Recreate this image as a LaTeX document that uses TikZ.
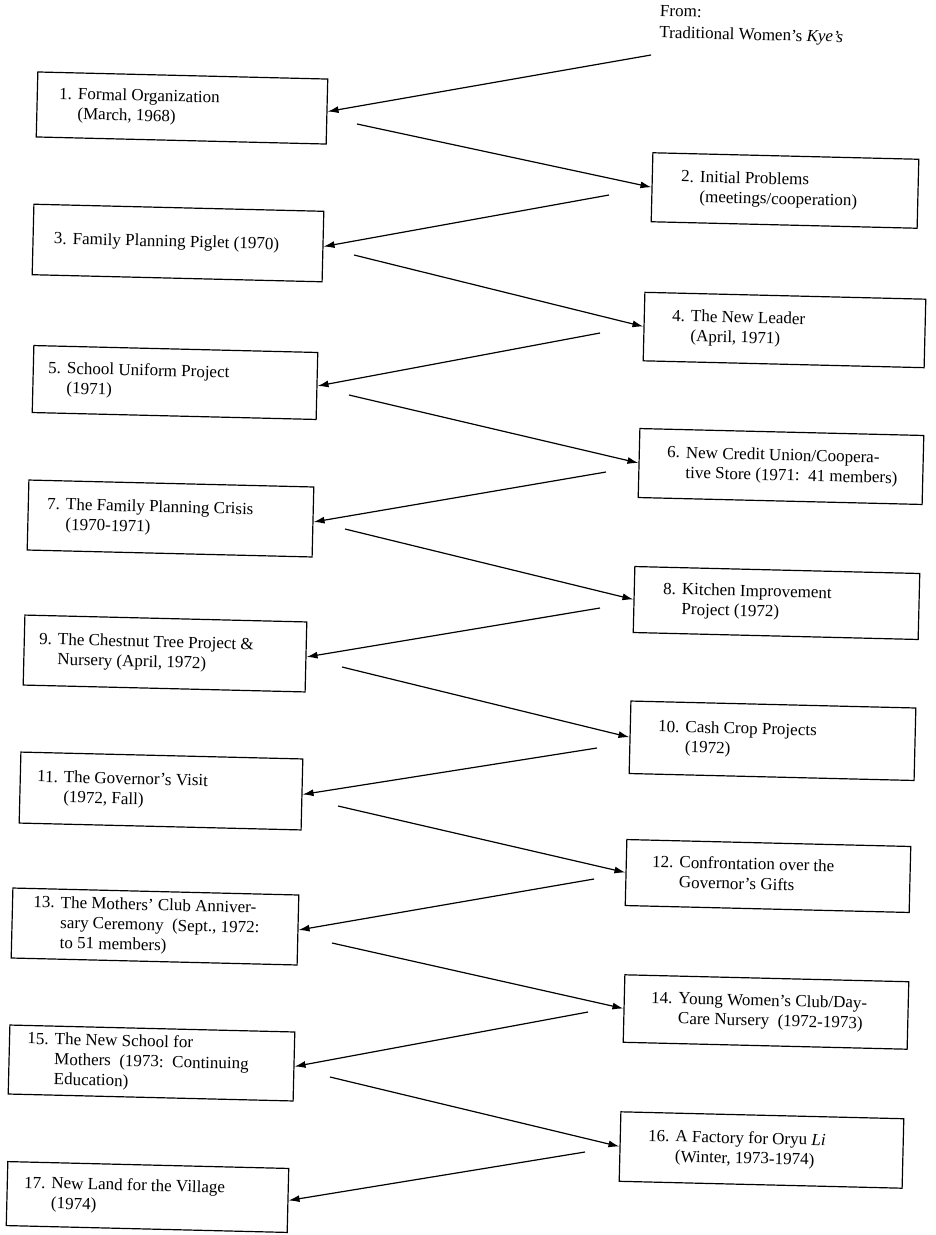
\documentclass[tikz,border=0pt]{standalone}
\usepackage{fontspec}
\setmainfont{Liberation Serif}
\usetikzlibrary{arrows.meta}
\tikzset{
  box/.style={draw, line width=1.2pt, rotate=-1.4, inner sep=0pt, font=\fontsize{17}{20}\selectfont},
  arr/.style={line width=1.2pt, -{Latex[length=11pt,width=7pt]}},
  head/.style={anchor=north west, align=left, inner sep=0pt, rotate=-1.4, font=\fontsize{17}{21.5}\selectfont},
}
\newcommand\bx[3]{\makebox[#1][l]{\begin{tabular}{@{}l@{\hspace{6pt}}l@{}}#2&#3\end{tabular}}}
\begin{document}
\begin{tikzpicture}[x=1pt,y=-1pt]
\useasboundingbox (0,0) rectangle (935,1235);
\fill[white] (0,0) rectangle (935,1235);

\node[head] (from) at (660,5) {From:\\Traditional Women's \textit{Kye's}};

\node[box, minimum width=290pt, minimum height=65pt] (b1) at (182,108) {\bx{246pt}{1.}{Formal Organization\\&(March, 1968)}};
\node[box, minimum width=266pt, minimum height=69pt] (b2) at (785,190.5) {\bx{208pt}{2.}{Initial Problems\\&(meetings/cooperation)}};
\node[box, minimum width=290pt, minimum height=70.5pt] (b3) at (178,243) {\bx{248pt}{3.}{Family Planning Piglet (1970)}};
\node[box, minimum width=281pt, minimum height=68.5pt] (b4) at (784.5,330) {\bx{225pt}{4.}{The New Leader\\&(April, 1971)}};
\node[box, minimum width=284pt, minimum height=67pt] (b5) at (175,382.5) {\bx{254pt}{5.}{School Uniform Project\\&(1971)}};
\node[box, minimum width=284pt, minimum height=69pt] (b6) at (781,466.5) {\bx{228pt}{6.}{New Credit Union/Coopera-\\&tive Store (1971:\ \ 41 members)}};
\node[box, minimum width=285pt, minimum height=70pt] (b7) at (170.5,518.5) {\bx{247pt}{7.}{The Family Planning Crisis\\&(1970-1971)}};
\node[box, minimum width=285pt, minimum height=66pt] (b8) at (776.5,603) {\bx{227pt}{8.}{Kitchen Improvement\\&Project (1972)}};
\node[box, minimum width=282pt, minimum height=70pt] (b9) at (165,653.5) {\bx{252pt}{9.}{The Chestnut Tree Project \&\\&Nursery (April, 1972)}};
\node[box, minimum width=285pt, minimum height=72.5pt] (b10) at (772.5,740.75) {\bx{229pt}{10.}{Cash Crop Projects\\&(1972)}};
\node[box, minimum width=282pt, minimum height=71pt] (b11) at (161,791) {\bx{248pt}{11.}{The Governor's Visit\\&(1972, Fall)}};
\node[box, minimum width=284pt, minimum height=66pt] (b12) at (768,876) {\bx{232pt}{12.}{Confrontation over the\\&Governor's Gifts}};
\node[box, minimum width=286pt, minimum height=70pt] (b13) at (155,926.5) {\bx{244pt}{13.}{The Mothers' Club Anniver-\\&sary Ceremony\ \ (Sept., 1972:\\&to 51 members)}};
\node[box, minimum width=284pt, minimum height=67.5pt] (b14) at (766,1012) {\bx{230pt}{14.}{Young Women's Club/Day-\\&Care Nursery\ \ (1972-1973)}};
\node[box, minimum width=285pt, minimum height=69pt] (b15) at (151.5,1063) {\bx{249pt}{15.}{The New School for\\&Mothers\ \ (1973:\ \ Continuing\\&Education)}};
\node[box, minimum width=283pt, minimum height=69.5pt] (b16) at (761.5,1150) {\bx{227pt}{16.}{A Factory for Oryu \textit{Li}\\&(Winter, 1973-1974)}};
\node[box, minimum width=281pt, minimum height=64pt] (b17) at (147.5,1197) {\bx{247pt}{17.}{New Land for the Village\\&(1974)}};

\coordinate (o0) at (651,55);
\coordinate (o1) at (357,124);
\coordinate (o2) at (609,195);
\coordinate (o3) at (354,255);
\coordinate (o4) at (600,333);
\coordinate (o5) at (349,395);
\coordinate (o6) at (606,472);
\coordinate (o7) at (345,529);
\coordinate (o8) at (600,608);
\coordinate (o9) at (342,667);
\coordinate (o10) at (597,748);
\coordinate (o11) at (338,806);
\coordinate (o12) at (594,879);
\coordinate (o13) at (332,943);
\coordinate (o14) at (588,1012);
\coordinate (o15) at (330,1077);
\coordinate (o16) at (585,1152);

\draw[arr] (o0) -- (b1.east);
\draw[arr] (o1) -- (b2.west);
\draw[arr] (o2) -- (b3.east);
\draw[arr] (o3) -- (b4.west);
\draw[arr] (o4) -- (b5.east);
\draw[arr] (o5) -- (b6.west);
\draw[arr] (o6) -- (b7.east);
\draw[arr] (o7) -- (b8.west);
\draw[arr] (o8) -- (b9.east);
\draw[arr] (o9) -- (b10.west);
\draw[arr] (o10) -- (b11.east);
\draw[arr] (o11) -- (b12.west);
\draw[arr] (o12) -- (b13.east);
\draw[arr] (o13) -- (b14.west);
\draw[arr] (o14) -- (b15.east);
\draw[arr] (o15) -- (b16.west);
\draw[arr] (o16) -- (b17.east);
\end{tikzpicture}
\end{document}
